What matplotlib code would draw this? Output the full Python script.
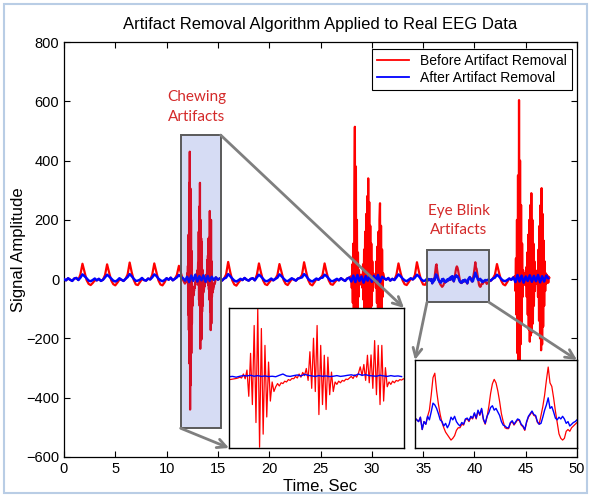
import numpy as np
import matplotlib
matplotlib.use("Agg")
import matplotlib.pyplot as plt
from matplotlib.patches import Rectangle, ConnectionPatch

plt.rcParams['font.family'] = ['Liberation Sans', 'DejaVu Sans']

# ---------------- data ----------------
coarse_start, coarse_step = 0.0, 0.2
after_coarse = [
    0, -4, 3, -2, -6, 2, 4, -3, 5, 16,
    10, 3, -5, -7, -3, 2, -4, 1, -6, -2,
    6, 15, 9, 2, -5, -8, -4, 3, -2, -6,
    1, 7, 17, 10, 1, -6, -5, -2, 4, -3,
    -5, 2, -1, 6, 16, 11, 2, -4, -7, -3,
    3, -2, 5, -4, 1, 6, 14, 8, 3, -5,
    8, -10, 12, -6, 15, -8, 10, -4, 13, -9,
    11, -6, 8, -3, 6, -2, 3, -5, 2, 5,
    17, 10, 2, -5, -8, -4, 1, -3, 4, -2,
    -5, 1, 3, -4, 6, 15, 9, 1, -6, -7,
    -3, 2, -4, 1, 5, 16, 10, 2, -5, -7,
    -2, 3, -1, -5, 2, 4, 6, 17, 11, 1,
    -5, -8, -3, 2, -2, 4, 5, 15, 10, 2,
    -6, -7, -3, 1, -4, 3, -2, -6, 2, 5,
    -8, 12, -10, 14, -6, 9, -12, 10, -5, 13,
    -9, 11, -7, 14, -10, 8, 3, -2, 4, -5,
    1, -3, 6, 16, 10, 2, -4, -7, -2, 3,
    -1, 5, 15, 9, 0, -6, -5, 2, -3, 4,
    8, 16, 10, 3, -6, -10, -8, -3, 1, -4,
    4, 8, 13, 7, -2, -8, -5, -3, -6, 2,
    10, 20, 9, 0, -2, -6, -4, -1, -5, 2,
    5, 15, 9, 1, -5, -7, -3, 2, -2, 6,
    -10, 14, -8, 12, -12, 9, -6, 13, -9, 11,
    -7, 14, -11, 10, -8, 12, 3]
before_coarse = [
    0, -4, 3, -2, -6, 2, 4, -3, 16, 52,
    24, -3, -16, -20, -13, -4, -4, 1, -6, -2,
    14, 50, 22, -4, -17, -21, -12, -2, -2, -6,
    1, 16, 56, 23, -3, -18, -20, -10, 0, -3,
    -5, 2, -1, 15, 53, 25, -4, -18, -21, -11,
    3, -2, 5, -4, 1, 14, 45, 20, -3, -12,
    8, -10, 12, -6, 15, -8, 10, -4, 13, -9,
    11, -6, 8, -3, 6, -2, 3, -5, 2, 16,
    58, 24, -4, -18, -22, -12, -3, -3, 4, -2,
    -5, 1, 3, -4, 15, 53, 22, -4, -17, -20,
    -11, -2, -4, 1, 14, 51, 24, -3, -16, -20,
    -10, 0, -1, -5, 2, 4, 15, 57, 25, -3,
    -17, -21, -11, 0, -2, 4, 14, 53, 22, -4,
    -17, -19, -10, -2, -4, 3, -2, -6, 2, 5,
    -8, 12, -10, 14, -6, 9, -12, 10, -5, 13,
    -9, 11, -7, 14, -10, 8, 3, -2, 4, -5,
    1, -3, 15, 53, 22, -4, -17, -20, -10, 1,
    -1, 14, 57, 24, -3, -18, -19, -6, -3, 4,
    14, 48, 22, 0, -14, -22, -25, -15, -5, -4,
    4, 25, 43, 20, -6, -12, -8, -3, -6, 2,
    25, 57, 30, 2, -18, -25, -16, -9, -5, 2,
    15, 51, 22, -4, -17, -21, -10, 2, -2, 6,
    -10, 14, -8, 12, -12, 9, -6, 13, -9, 11,
    -7, 14, -11, 10, -8, 12, 3]

# chewing burst 1 (also shown in the left inset)
chew1_start, chew1_step = 11.78, 0.03
chew1_before = [
    -15, -14, -12, -10, -8, -5, 0, -5, 20, -10,
    45, -120, 150, -172, 325, -285, 430, -440, 306, -358,
    200, -250, 95, -150, -30, -90, -60, -40, -55, -35,
    -40, -25, -30, -15, -20, -8, -10, 5, -5, 20,
    0, 30, 10, 55, -20, 160, -70, 245, -90, 325,
    -235, 200, -172, 138, -203, 126, -110, 32, -90, -30,
    -45, -25, -35, -20, -25, -12, -15, -5, 5, -8,
    15, 0, 25, 65, 10, 80, -20, 138, -35, 140,
    -70, 230, -110, 200, -172, 200, -150, 60, -60, -30,
    -45, -25, -35, -20, -25, -15, -18, -10, -12]
chew1_after_step = 0.06
chew1_after = [
    3, 5, 0, 6, 10, 8, 12, 6, 10, 5,
    8, 4, 6, 3, 12, 20, 8, 5, 10, 14,
    8, 18, 12, 8, 5, 10, 6, 8, 4, 6,
    10, 5, 8, 12, 15, 10, 20, 12, 16, 10,
    8, 6, 12, 8, 5, 10, 6, 8, 4]

chew2_start, chew2_step = 28.0, 0.05
chew2_before = [
    10, -30, 50, -80, 120, -170, 260, 514, -290, 380,
    -230, 200, -150, 90, -60, 30, -20, 10, -10, 15,
    -5, 10, -30, 50, -70, 100, -120, 160, -180, 220,
    -210, 280, -250, 340, -240, 260, -200, 180, -150, 120,
    -90, 60, -40, 20, -10, 10, -5, 5, -30, 60,
    -80, 110, -130, 160, -180, 200, 256, -220, 180, -150,
    100, -60, 20]

chew3_start, chew3_step = 43.95, 0.05
chew3_before = [
    10, -40, 70, -120, 200, -250, 350, -330, 604, -300,
    400, -220, 250, -150, 120, -60, 30, -20, 15, -10,
    20, -20, 40, -60, 90, -120, 150, -170, 200, -211,
    250, -190, 290, -180, 200, -150, 120, -90, 60, -40,
    20, -15, 10, -10, 30, -60, 100, -140, 180, -200,
    250, -240, 307, -220, 220, -160, 130, -90, 60, -40,
    20, -15, 15, -10, 10, -12, 8, 5]

# eye-blink segment (also shown in the right inset)
blink_start, blink_step = 35.65, 0.06
blink_after = [
    -1, -3, -5, 0, -14, -5, -8, 1, -3, 6,
    16, 14, 10, 4, -3, -5, -10, -7, -12, -8,
    0, -3, 1, -5, -8, -10, -6, -8, -2, -1,
    -4, 1, -1, 5, -1, 8, 3, 10, -2, -7,
    1, 5, 11, 13, 8, 10, 6, 2, -5, -9,
    -10, -12, -12, -6, -4, -8, -5, -2, -3, -8,
    -10, -14, -5, 1, 4, 7, 3, 2, -5, -8,
    -7, 0, 8, 14, 22, 10, 12, 6, -1, -3,
    0, -2, 1, -2, -7, -5, -10, -8, -6, -5,
    -3]
blink_before = [
    -1, -3, -5, 0, -14, -5, -8, 1, 8, 25,
    45, 50, 30, 15, 3, -6, -12, -17, -20, -23,
    -26, -24, -21, -15, -12, -12, -8, -9, -3, -2,
    -5, 0, -2, 4, -2, 7, 2, 9, -3, -8,
    0, 12, 27, 38, 43, 39, 30, 18, 4, -5,
    -12, -13, -13, -7, -5, -9, -6, -3, -4, -9,
    -11, -15, -6, 0, 3, 6, 2, 1, -6, -8,
    2, 12, 25, 42, 57, 39, 35, 22, 7, -6,
    -19, -24, -26, -24, -16, -14, -16, -12, -10, -8,
    -6]

series_labels = ["Before Artifact Removal", "After Artifact Removal"]
title_text = "Artifact Removal Algorithm Applied to Real EEG Data"
x_ticks = [0, 5, 10, 15, 20, 25, 30, 35, 40, 45, 50]
y_ticks = [-600, -400, -200, 0, 200, 400, 600, 800]


def seg(start, step, vals):
    v = np.asarray(vals, float)
    return start + step * np.arange(len(v)), v


def merge(base, pieces):
    t, v = base
    for pt, pv in pieces:
        keep = (t < pt[0] - 1e-9) | (t > pt[-1] + 1e-9)
        t = np.concatenate([t[keep], pt])
        v = np.concatenate([v[keep], pv])
    o = np.argsort(t, kind="stable")
    return t[o], v[o]


c1b = seg(chew1_start, chew1_step, chew1_before)
c1a = seg(chew1_start, chew1_after_step, chew1_after)
c2b = seg(chew2_start, chew2_step, chew2_before)
c3b = seg(chew3_start, chew3_step, chew3_before)
bkb = seg(blink_start, blink_step, blink_before)
bka = seg(blink_start, blink_step, blink_after)

t_red, v_red = merge(seg(coarse_start, coarse_step, before_coarse), [c1b, c2b, c3b, bkb])
t_blue, v_blue = merge(seg(coarse_start, coarse_step, after_coarse), [bka])

RED = "#FF0000"
BLUE = "#0000FF"

# ---------------- figure ----------------
W, H = 591, 497
fig = plt.figure(figsize=(W / 100, H / 100), dpi=100)
fig.patches.append(Rectangle((4 / W, 4 / H), 583 / W, 489 / H, transform=fig.transFigure,
                             fill=False, edgecolor="#B9CDE5", lw=1.5))

ax = fig.add_axes([64 / W, 1 - 457 / H, 513 / W, 415 / H])
ax.plot(t_red, v_red, color=RED, lw=1.6, label=series_labels[0], zorder=2)
ax.plot(t_blue, v_blue, color=BLUE, lw=1.8, label=series_labels[1], zorder=3)
ax.set_xlim(0, 50)
ax.set_ylim(-600, 800)
ax.set_xticks(x_ticks)
ax.set_yticks(y_ticks)
ax.tick_params(direction="in", top=True, right=True, length=4, labelsize=10.5, width=0.8)
for s in ax.spines.values():
    s.set_linewidth(0.9)
ax.set_title(title_text, fontsize=12, pad=9)
ax.set_xlabel("Time, Sec", fontsize=12, labelpad=2)
ax.set_ylabel("Signal Amplitude", fontsize=12, labelpad=0)

leg = ax.legend(loc="upper right", bbox_to_anchor=(1 - 5 / 513, 1 - 7 / 415), borderaxespad=0,
                fontsize=10, handlelength=2.3, labelspacing=0.25, borderpad=0.35,
                fancybox=False, edgecolor="black", framealpha=1)
leg.get_frame().set_linewidth(0.8)
for ln in leg.get_lines():
    ln.set_linewidth(1.3)

# highlight boxes (semi-transparent over the traces)
ov = (50 / 255, 80 / 255, 200 / 255, 0.2)
rect1 = (11.37, -503, 3.9, 989)
rect2 = (35.38, -78, 6.04, 178)
for (x0, y0, w, h) in (rect1, rect2):
    ax.add_patch(Rectangle((x0, y0), w, h, facecolor=ov, edgecolor="none", zorder=4))
    ax.add_patch(Rectangle((x0, y0), w, h, facecolor="none", edgecolor="#5A5A5A", lw=1.4, zorder=5))

ann_color = "#D42A2A"
ax.text(12.9, 580, "Chewing\nArtifacts", color=ann_color, fontsize=11, family=["Lato", "DejaVu Sans"],
        ha="center", va="center", linespacing=1.5)
ax.text(38.5, 198, "Eye Blink\nArtifacts", color=ann_color, fontsize=11, family=["Lato", "DejaVu Sans"],
        ha="center", va="center", linespacing=1.5)

# insets
ins1 = fig.add_axes([229 / W, 1 - 448 / H, 175 / W, 140 / H])
ins1.plot(c1b[0], c1b[1], color=RED, lw=0.9)
ins1.plot(c1a[0], c1a[1], color=BLUE, lw=1.0)
ins1.set_xlim(11.78, 14.70)
ins1.set_ylim(-445, 435)

ins2 = fig.add_axes([415 / W, 1 - 448 / H, 162 / W, 88 / H])
ins2.plot(bkb[0], bkb[1], color=RED, lw=0.9)
ins2.plot(bka[0], bka[1], color=BLUE, lw=1.0)
ins2.set_xlim(35.65, 41.05)
ins2.set_ylim(-35, 65)

for ia in (ins1, ins2):
    ia.set_xticks([])
    ia.set_yticks([])
    for s in ia.spines.values():
        s.set_linewidth(1.0)
        s.set_color("black")

# connector arrows
arrows = [((rect1[0] + rect1[2], rect1[1] + rect1[3]), ins1, (1, 1)),
          ((rect1[0], rect1[1]), ins1, (0, 0)),
          ((rect2[0], rect2[1]), ins2, (0, 1)),
          ((rect2[0] + rect2[2], rect2[1]), ins2, (1, 1))]
for xyA, iax, xyB in arrows:
    con = ConnectionPatch(xyA=xyA, coordsA=ax.transData, xyB=xyB, coordsB=iax.transAxes,
                          arrowstyle="->", color="#7F7F7F", lw=2.0, mutation_scale=16,
                          shrinkA=0, shrinkB=0)
    fig.add_artist(con)

fig.savefig("out.png", dpi=100)
